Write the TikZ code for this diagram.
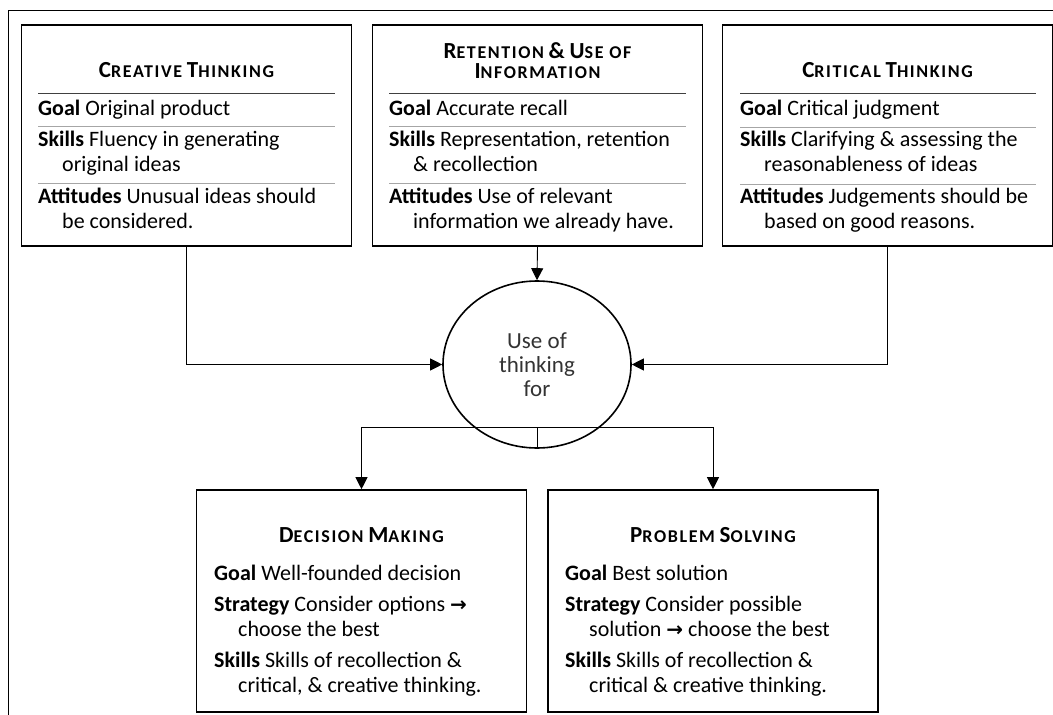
\documentclass[tikz,border=0pt]{standalone}
\usepackage{fontspec}
\setmainfont{Carlito}
\newfontfamily\arrowfont{DejaVu Sans}
\usetikzlibrary{arrows.meta,shapes.geometric}

% type sizes (1pt = 1 unit of the drawing)
\newcommand\bodyfont{\fontsize{22}{24.5}\selectfont}
\newcommand\hubfont{\fontsize{23}{24}\selectfont\color{black!80}}
\newcommand\titlefont{\fontsize{21}{17}\selectfont\bfseries}
% hand-made small capitals: large initial, smaller remaining capitals, slightly spaced
\newcommand\scw[2]{{\fontsize{23}{17}\selectfont\addfontfeature{LetterSpace=9}#1}{\fontsize{18}{17}\selectfont\addfontfeature{LetterSpace=9}#2}}
\newcommand\ind{\hspace*{24pt}}
\newcommand\rarr{{\arrowfont\fontsize{20}{20}\selectfont\textbf{→}}}

\begin{document}
\begin{tikzpicture}[x=1pt,y=-1pt,
  box/.style={draw, line width=1.6pt, minimum width=330pt, minimum height=221pt, inner sep=0pt},
  ttl/.style={anchor=base, align=center, inner sep=0pt, font=\titlefont},
  entry/.style={anchor=base west, align=left, inner sep=0pt, font=\bodyfont},
  headrule/.style={line width=1pt, draw=black!75},
  seprule/.style={line width=0.8pt, draw=black!35},
  link/.style={line width=0.9pt},
  arr/.style={link, -{Triangle[length=12pt,width=12pt]}},
  hub/.style={draw, ellipse, line width=1.6pt, minimum width=188pt, minimum height=167pt,
              inner sep=0pt, align=center, font=\hubfont}
]
\useasboundingbox (0,0) rectangle (1053,715);

% page frame: top and left edges only
\draw[line width=1.2pt] (8.5,715) -- (8.5,10.5) -- (1053,10.5);

% ---------- upper row ----------
\node[box] (ct)  at (186.5,135.5) {};
\node[box] (ret) at (537.5,135.5) {};
\node[box] (crt) at (887.5,135.5) {};

% Creative thinking (node base = baseline of the last line)
\node[ttl] (ct-t) at (186.5,77) {\scw{C}{REATIVE} \scw{T}{HINKING}};
\draw[headrule] (38,93) -- (335,93);
\node[entry] (ct-g) at (38,115) {\textbf{Goal} Original product};
\draw[seprule] (38,126.5) -- (335,126.5);
\node[entry] (ct-s) at (38,171) {\textbf{Skills} Fluency in generating\\\ind original ideas};
\draw[seprule] (38,183.5) -- (335,183.5);
\node[entry] (ct-a) at (38,228) {\textbf{Attitudes} Unusual ideas should\\\ind be considered.};

% Retention & use of information
\node[ttl] (ret-t) at (537.5,78) {\scw{R}{ETENTION} \scw{\&}{} \scw{U}{SE OF}\\[3pt]\scw{I}{NFORMATION}};
\draw[headrule] (389,93) -- (686,93);
\node[entry] (ret-g) at (389,115) {\textbf{Goal} Accurate recall};
\draw[seprule] (389,126.5) -- (686,126.5);
\node[entry] (ret-s) at (389,171) {\textbf{Skills} Representation, retention\\\ind\&{} recollection};
\draw[seprule] (389,183.5) -- (686,183.5);
\node[entry] (ret-a) at (389,228) {\textbf{Attitudes} Use of relevant\\\ind information we already have.};

% Critical thinking
\node[ttl] (crt-t) at (887.5,77) {\scw{C}{RITICAL} \scw{T}{HINKING}};
\draw[headrule] (740,93) -- (1036,93);
\node[entry] (crt-g) at (740,115) {\textbf{Goal} Critical judgment};
\draw[seprule] (740,127.5) -- (1036,127.5);
\node[entry] (crt-s) at (740,171) {\textbf{Skills} Clarifying \& assessing the\\\ind reasonableness of ideas};
\draw[seprule] (740,184) -- (1036,184);
\node[entry] (crt-a) at (740,228) {\textbf{Attitudes} Judgements should be\\\ind based on good reasons.};

% ---------- hub ----------
\node[hub] (use) at (537,364.5) {Use of\\thinking\\for};

% ---------- lower row ----------
\node[box, minimum height=222pt] (dm) at (361.5,601) {};
\node[box, minimum height=222pt] (ps) at (713,601) {};

% Decision making
\node[ttl] (dm-t) at (361.5,542) {\scw{D}{ECISION} \scw{M}{AKING}};
\node[entry] (dm-g) at (214,580) {\textbf{Goal} Well-founded decision};
\node[entry] (dm-s) at (214,636) {\textbf{Strategy} Consider options \rarr\\\ind choose the best};
\node[entry] (dm-k) at (214,692) {\textbf{Skills} Skills of recollection \&\\\ind critical, \& creative thinking.};

% Problem solving
\node[ttl] (ps-t) at (713,542) {\scw{P}{ROBLEM} \scw{S}{OLVING}};
\node[entry] (ps-g) at (565,580) {\textbf{Goal} Best solution};
\node[entry] (ps-s) at (565,636) {\textbf{Strategy} Consider possible\\\ind solution \rarr{} choose the best};
\node[entry] (ps-k) at (565,692) {\textbf{Skills} Skills of recollection \&\\\ind critical \& creative thinking.};

% ---------- connectors ----------
\draw[arr] (ct.south) |- (use.west);
\draw[arr] (ret.south) -- (use.north);
\draw[arr] (crt.south) |- (use.east);
\coordinate (split) at ([yshift=21.5pt]use.south);
\draw[link] (use.south) -- (split);
\draw[arr] (split) -| (dm.north);
\draw[arr] (split) -| (ps.north);
\end{tikzpicture}
\end{document}
